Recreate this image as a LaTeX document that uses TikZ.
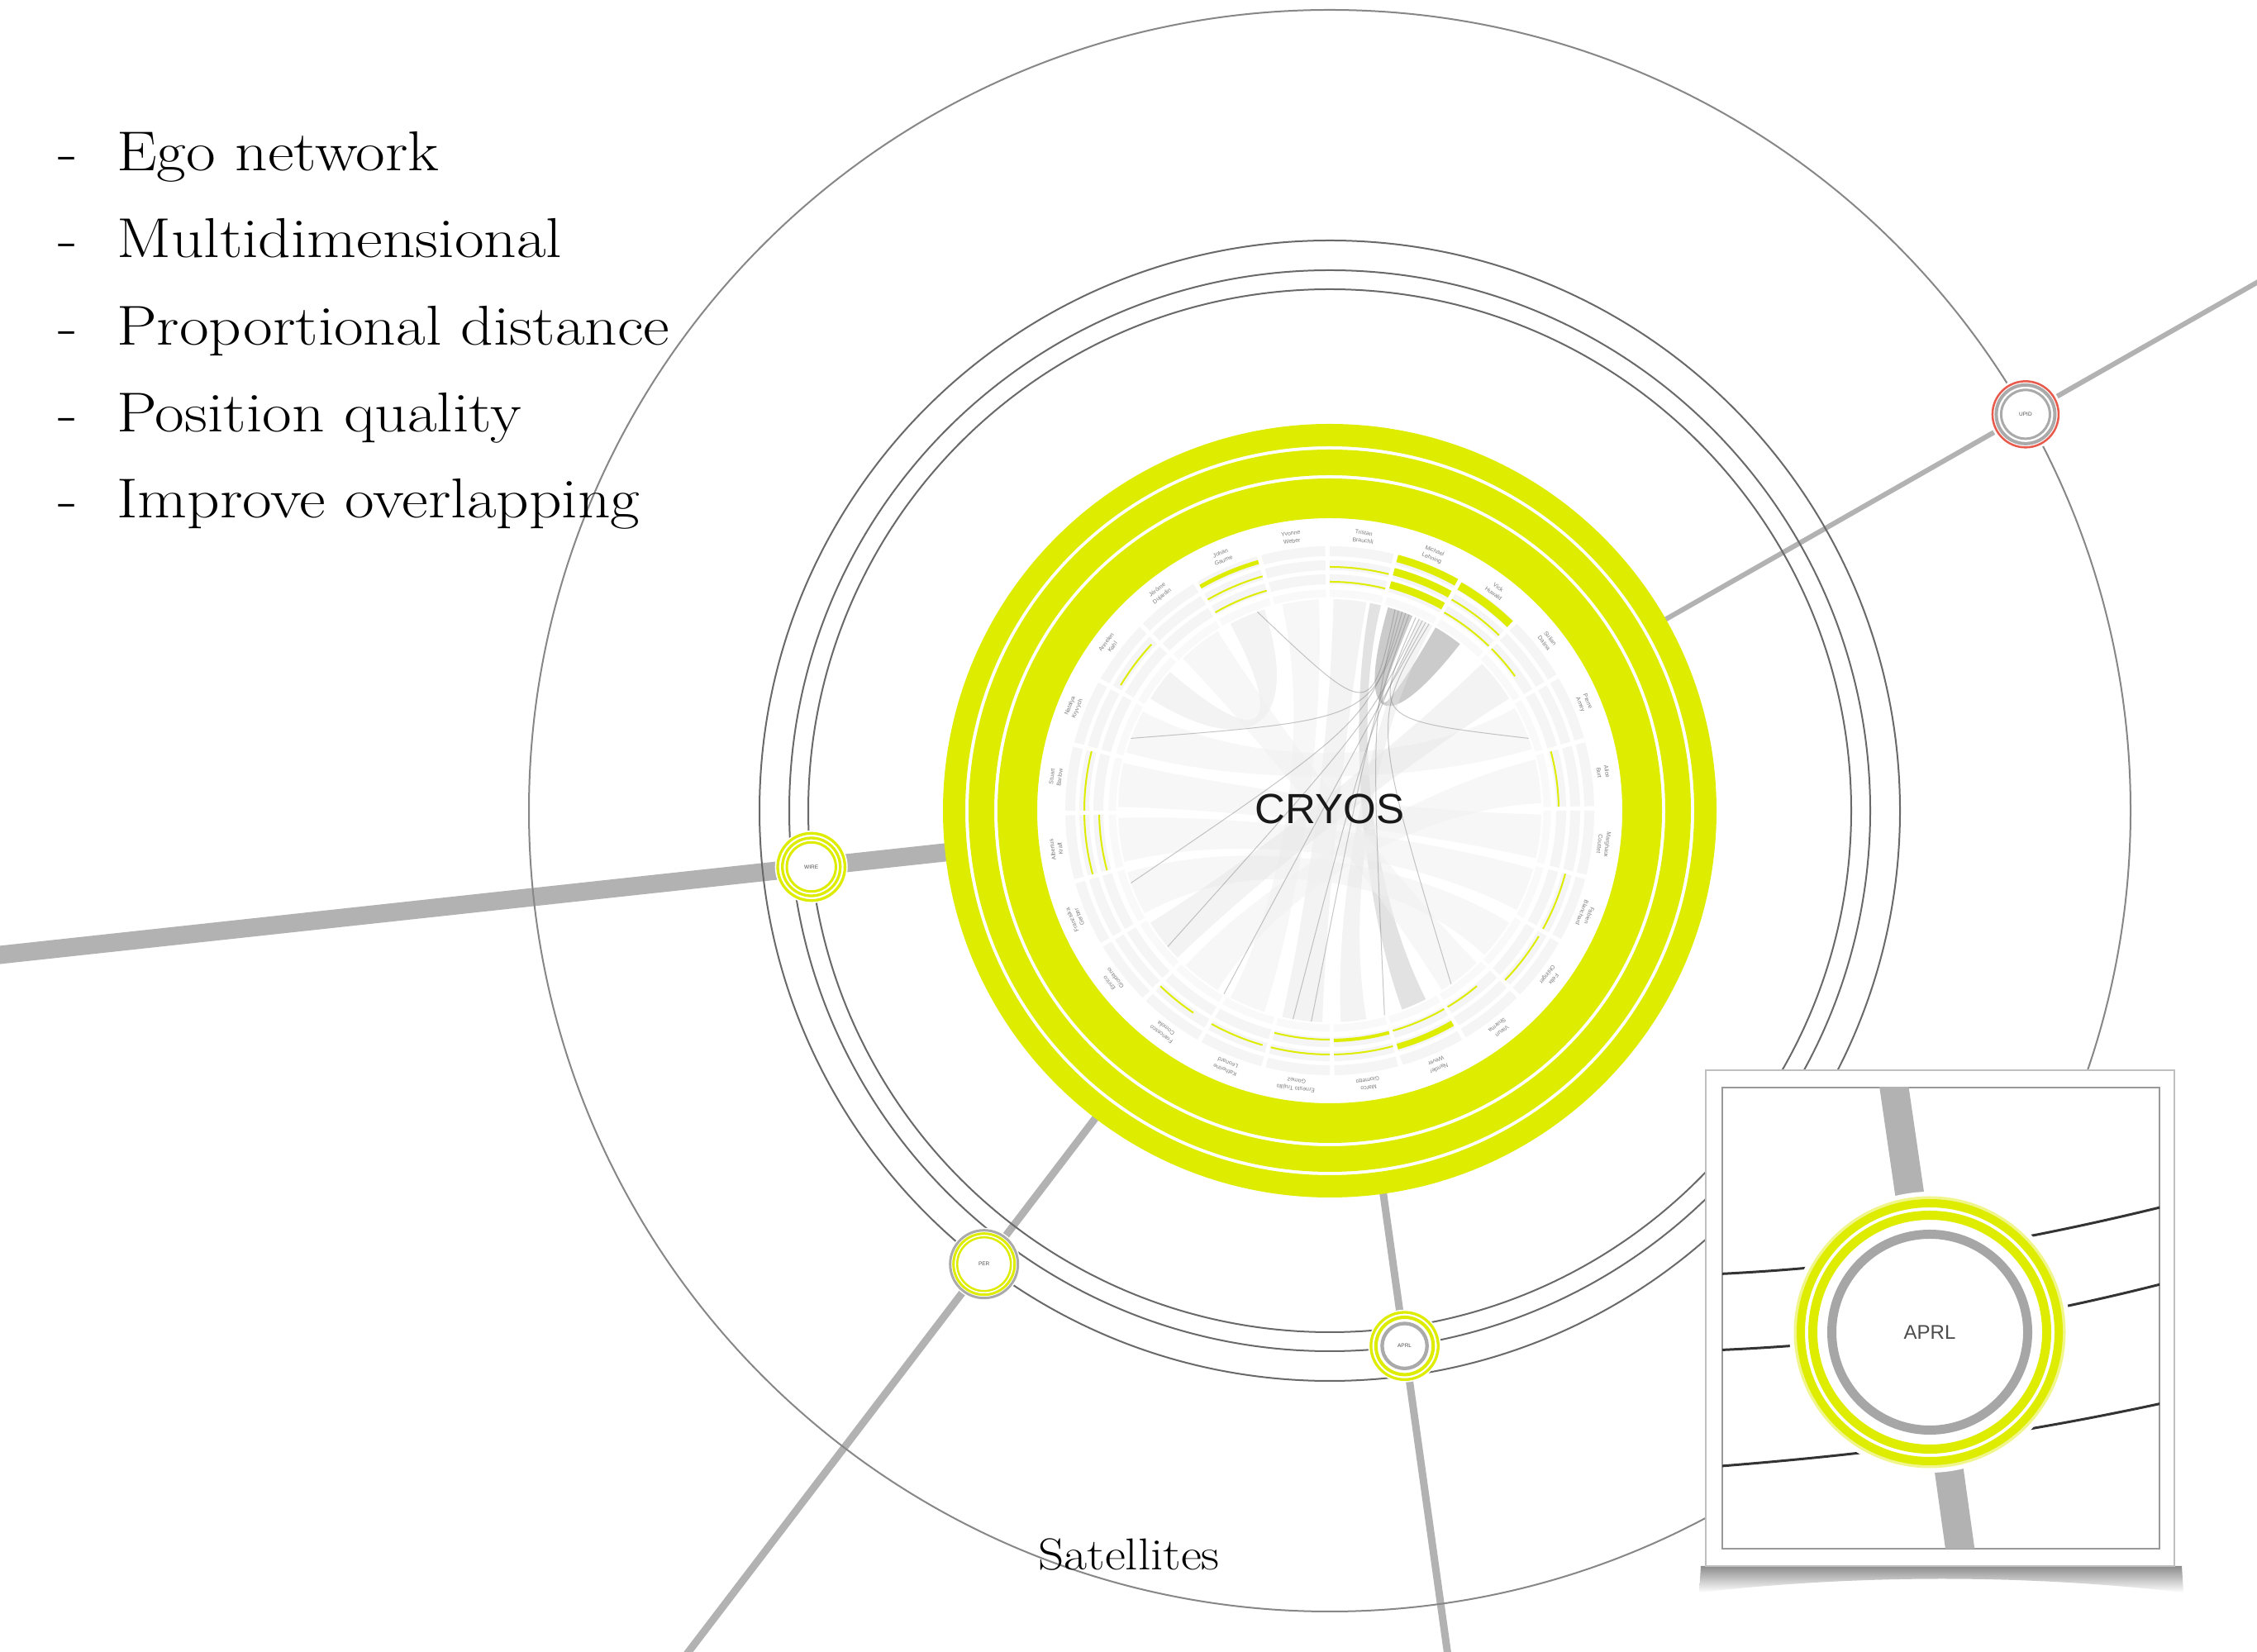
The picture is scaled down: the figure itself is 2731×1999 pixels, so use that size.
\documentclass[tikz,border=0pt]{standalone}
\usepackage{fontspec}
\newfontfamily\sansf{Liberation Sans}
\definecolor{ylw}{RGB}{222,236,0}
\definecolor{spokec}{RGB}{178,178,178}
\definecolor{orbc}{RGB}{105,105,105}
\definecolor{orbbig}{RGB}{135,135,135}
\definecolor{trackc}{RGB}{245,245,245}
\definecolor{redr}{RGB}{232,90,75}
\definecolor{satgray}{RGB}{170,170,170}
\definecolor{labc}{RGB}{125,125,125}
\newcommand\yarc[4]{\draw[ylw,line width=#4pt] (#1:#3pt) arc[start angle=#1,end angle=#2,radius=#3pt];}
\newcommand\rib[5]{\fill[#5] (#1:256pt) arc[start angle=#1,end angle=#2,radius=256pt] .. controls (#2:110pt) and (#3:110pt) .. (#3:256pt) arc[start angle=#3,end angle=#4,radius=256pt] .. controls (#4:110pt) and (#1:110pt) .. (#1:256pt) -- cycle;}
\newcommand\chl[3]{\draw[#3] (#1:256pt) .. controls (50,110) .. (#2:256pt);}
\tikzset{
 orbit/.style={draw=orbc,line width=2pt},
 bigorbit/.style={draw=orbbig,line width=2pt},
 spokew/.style={draw=spokec,line width=#1},
 sat/.style={circle,fill=white,minimum size=88pt,inner sep=0pt,font=\sansf\fontsize{6.5}{7}\selectfont,text=black!70},
 namelab/.style={align=center,font=\sansf\fontsize{7}{9.5}\selectfont,text=labc,inner sep=0pt},
 bullet/.style={anchor=base west,font=\fontsize{68}{80}\selectfont,inner sep=0pt,xscale=1.14},
 ribdark/.style={fill=black!45,fill opacity=0.45},
 ribmid/.style={fill=black!25,fill opacity=0.45},
 ribpale/.style={fill=black!10,fill opacity=0.45},
 ribvpale/.style={fill=black!6,fill opacity=0.5},
 chth/.style={draw=black!50,line width=1pt,draw opacity=0.45},
 inarc/.style={draw=black!80,line width=3pt},
}
\begin{document}
\begin{tikzpicture}[x=1pt,y=1pt]
\useasboundingbox (0,0) rectangle (2731,1999);
\clip (0,0) rectangle (2731,1999);
\fill[white] (0,0) rectangle (2731,1999);
\coordinate (C) at (1609,1018);
\begin{scope}[shift={(1609,1018)}]
 % satellite positions and spoke ends
 \coordinate (wirep) at (186.19:631pt);
 \coordinate (perp) at (232.68:690pt);
 \coordinate (aprlp) at (-82.04:654pt);
 \coordinate (upbp) at (29.67:969pt);
 \coordinate (wirein) at (186.19:466pt);
 \coordinate (wireout) at (186.19:1750pt);
 \coordinate (perin) at (232.68:466pt);
 \coordinate (perout) at (232.68:1400pt);
 \coordinate (aprlin) at (-82.04:466pt);
 \coordinate (aprlout) at (-82.04:1150pt);
 \coordinate (upbin) at (29.67:466pt);
 \coordinate (upbout) at (29.67:1400pt);
 % spokes
 \draw[spokew=22pt] (wirein) -- (wirep) -- (wireout);
 \draw[spokew=6pt] (upbin) -- (upbp) -- (upbout);
 \draw[spokew=9pt] (perin) -- (perp) -- (perout);
 \draw[spokew=9pt] (aprlin) -- (aprlp) -- (aprlout);
 % orbits
 \draw[bigorbit] (0,0) circle (969pt);
 \draw[orbit] (0,0) circle (690pt);
 \draw[orbit] (0,0) circle (654pt);
 \draw[orbit] (0,0) circle (631pt);
 % yellow rings
 \fill[ylw,even odd rule] (0,0) circle (468pt) circle (441pt);
 \fill[ylw,even odd rule] (0,0) circle (437pt) circle (406pt);
 \fill[ylw,even odd rule] (0,0) circle (402pt) circle (354pt);
 % tracks
 \foreach \k in {0,...,23} {
   \pgfmathsetmacro\aa{83-15*\k-7}
   \pgfmathsetmacro\bb{83-15*\k+7}
   \foreach \rr in {314pt,297pt,280pt} {
     \draw[trackc,line width=12pt] (\aa:\rr) arc[start angle=\aa,end angle=\bb,radius=\rr];
   }
   \draw[trackc!60!white,line width=9pt] (\aa:263pt) arc[start angle=\aa,end angle=\bb,radius=263pt];
 }
 % yellow arcs
 \yarc{106}{120}{313}{5}
 \yarc{106}{120}{295}{2}
 \yarc{106}{120}{277}{2}
 \yarc{76}{90}{295}{2}
 \yarc{76}{90}{277}{2}
 \yarc{61}{75}{316}{9}
 \yarc{61}{75}{299.5}{9}
 \yarc{61}{75}{283}{9}
 \yarc{46}{60}{314}{10}
 \yarc{46}{60}{295}{2}
 \yarc{46}{60}{277}{2}
 \yarc{36}{45}{277}{2}
 \yarc{1}{15}{277}{2}
 \yarc{-29}{-15}{295}{2}
 \yarc{-44}{-31}{295}{2}
 \yarc{-59}{-50}{277}{2}
 \yarc{-74}{-60}{297}{7}
 \yarc{-74}{-60}{277}{2}
 \yarc{-89}{-75}{278}{4}
 \yarc{-89}{-75}{295}{2}
 \yarc{-104}{-90}{277}{2}
 \yarc{-104}{-90}{295}{2}
 \yarc{-119}{-106}{295}{2}
 \yarc{-134}{-124}{295}{2}
 \yarc{166}{180}{297}{2}
 \yarc{181}{195}{297}{2}
 \yarc{181}{195}{279}{2}
 \yarc{137}{149}{295}{2}
 % chord ribbons
 \rib{67}{74}{52}{60}{ribdark}
 \rib{76}{79}{-70}{-63}{ribmid}
 \rib{80}{89}{-103}{-92}{ribpale}
 \rib{108}{118}{139}{148}{ribpale}
 \rib{93}{103}{-118}{-108}{ribvpale}
 \rib{152}{164}{17}{29}{ribvpale}
 \rib{167}{179}{-13}{-1}{ribvpale}
 \rib{182}{194}{-28}{-16}{ribvpale}
 \rib{197}{209}{-43}{-32}{ribvpale}
 \rib{-148}{-136}{32}{44}{ribpale}
 \rib{122}{134}{-58}{-46}{ribvpale}
 \rib{61}{65}{-87}{-80}{ribpale}
 \rib{2}{14}{-133}{-122}{ribvpale}
 \chl{63}{-120}{chth}
 \chl{64}{-100}{chth}
 \chl{65}{-140}{chth}
 \chl{62}{-55}{chth}
 \chl{66}{20}{chth}
 \chl{69}{160}{chth}
 \chl{70}{-160}{chth}
 \chl{72}{110}{chth}
 \chl{71}{-75}{chth}
 \chl{68}{-95}{chth}
 % name labels
 \foreach \k/\na/\nb in {0/Tristan/Brauchli,1/Michael/Lehning,2/Vick/Huwald,3/Sulian/Dalina,
   4/Pierre/Amey,5/Alice/Burt,6/Marghaux/Couttet,7/Fabien/Blanchard,8/Felix/Ohlinger,
   9/Varun/Sharma,10/Nander/Wever,11/Marco/Giometto,12/Ernesto Trujillo/Gomez,
   13/Katherine/Leonard,14/Francesco/Comola,15/Enrico/Giordano,16/Franziska/Gerber,
   17/Albertus/Kraft,18/Stuart/Barlow,19/Natalya/Kryvych,20/Annelen/Kahl,
   21/Jérôme/Dujardin,22/Johan/Gaume,23/Yvonne/Weber} {
   \pgfmathsetmacro\ang{83-15*\k}
   \node[namelab,rotate=\ang-90] (lab\k) at (\ang:334pt) {\na\\\nb};
 }
 % centre label
 \node[font=\sansf\fontsize{51}{51}\selectfont,text=black!90,inner sep=0pt] (cryos) at (0,2.5) {CRYOS};
 % satellites
 \node[sat] (wire) at (wirep) {WIRE};
 \draw[ylw,line width=3.3pt] (wire.center) circle (40.7pt);
 \draw[ylw,line width=3.3pt] (wire.center) circle (35pt);
 \draw[ylw,line width=3pt] (wire.center) circle (29.7pt);
 \node[sat] (upb) at (upbp) {UPID};
 \draw[redr,line width=2.5pt] (upb.center) circle (40pt);
 \draw[satgray,line width=4pt] (upb.center) circle (35.5pt);
 \draw[satgray,line width=3pt] (upb.center) circle (29.5pt);
 \node[sat] (per) at (perp) {PER};
 \draw[satgray,line width=3pt] (per.center) circle (41pt);
 \draw[ylw,line width=3pt] (per.center) circle (37pt);
 \draw[ylw,line width=2.5pt] (per.center) circle (32.5pt);
 \node[sat] (aprl) at (aprlp) {APRL};
 \draw[ylw,line width=3.3pt] (aprl.center) circle (40.7pt);
 \draw[ylw,line width=4pt] (aprl.center) circle (34.7pt);
 \draw[satgray,line width=4.3pt] (aprl.center) circle (27.2pt);
\end{scope}
% bullet list
\foreach \yy/\tt [count=\i] in {1792/Ego network,1687/Multidimensional,1581/Proportional distance,1476/Position quality,1372/Improve overlapping} {
  \node[bullet] (dash\i) at (70,\yy) {-};
  \node[bullet] (item\i) at (141,\yy) {\tt};
}
\node[anchor=base west,font=\fontsize{54}{60}\selectfont,inner sep=0pt,xscale=1.13] (sattitle) at (1256,99) {Satellites};
% inset with shadow
\shade[top color=black!45,bottom color=white] (2058,104) -- (2640,104) -- (2642,72) .. controls (2450,94) and (2250,94) .. (2056,72) -- cycle;
\draw[draw=black!25,line width=2pt,fill=white] (2064,104) rectangle (2631,704);
\draw[draw=black!40,line width=1.5pt] (2084,125) rectangle (2613,683);
\begin{scope}
 \clip (2084,125) rectangle (2613,683);
 \coordinate (roadtop) at (2288,710);
 \coordinate (roadbot) at (2373,115);
 \coordinate (zc) at (2335,387);
 \draw[spokec,line width=35pt] (roadtop) -- (zc) -- (roadbot);
 \draw[inarc] (2070,457) .. controls (2250,465) and (2420,490) .. (2630,542);
 \draw[inarc] (2070,365) .. controls (2250,372) and (2420,395) .. (2630,449);
 \draw[inarc] (2070,224) .. controls (2250,238) and (2420,258) .. (2630,304);
 \node[circle,fill=white,minimum size=340pt,inner sep=0pt,font=\sansf\fontsize{24}{24}\selectfont,text=black!70] (aprlbig) at (zc) {APRL};
 \draw[ylw!45,line width=5pt] (aprlbig.center) circle (162pt);
 \draw[ylw,line width=10pt] (aprlbig.center) circle (156pt);
 \draw[ylw,line width=11pt] (aprlbig.center) circle (141.5pt);
 \draw[black!35,line width=11pt] (aprlbig.center) circle (118.5pt);
\end{scope}
\end{tikzpicture}
\end{document}
